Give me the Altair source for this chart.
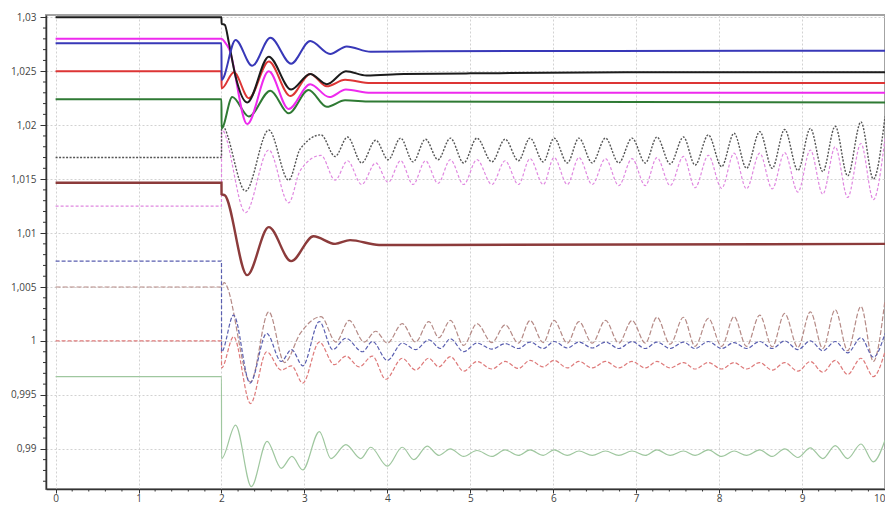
import altair as alt
import pandas as pd

# ---------------- solid series (time, value) ----------------
BLACK_T = [0, 2.0, 2.001, 2.04, 2.09, 2.17, 2.31, 2.57, 2.84, 3.07, 3.27, 3.5, 3.75, 4.2, 5.0, 7.0, 10.0]
BLACK_V = [1.0300, 1.0300, 1.0294, 1.0293, 1.0276, 1.0245, 1.0221, 1.02635, 1.0233, 1.02475, 1.0238, 1.0250, 1.0246, 1.02475, 1.0248, 1.0249, 1.0249]

BLUE_T = [0, 2.0, 2.001, 2.17, 2.37, 2.59, 2.84, 3.07, 3.31, 3.51, 3.8, 4.5, 10.0]
BLUE_V = [1.0276, 1.0276, 1.0242, 1.0279, 1.0255, 1.0281, 1.0257, 1.0278, 1.0266, 1.0273, 1.0268, 1.02685, 1.0269]

RED_T = [0, 2.0, 2.001, 2.15, 2.33, 2.57, 2.83, 3.07, 3.27, 3.49, 3.8, 10.0]
RED_V = [1.0250, 1.0250, 1.0234, 1.0249, 1.0225, 1.0259, 1.0227, 1.02475, 1.0236, 1.0242, 1.0239, 1.0239]

MAGENTA_T = [0, 2.0, 2.04, 2.09, 2.31, 2.57, 2.81, 3.07, 3.3, 3.5, 3.8, 10.0]
MAGENTA_V = [1.0280, 1.0280, 1.0277, 1.0271, 1.0201, 1.0250, 1.0215, 1.0238, 1.0226, 1.0233, 1.0230, 1.0230]

GREEN_T = [0, 2.0, 2.001, 2.13, 2.33, 2.59, 2.81, 3.05, 3.27, 3.49, 3.8, 10.0]
GREEN_V = [1.0224, 1.0224, 1.0197, 1.0226, 1.0208, 1.0232, 1.0211, 1.02326, 1.0217, 1.0223, 1.0222, 1.0221]

BROWN_T = [0, 2.0, 2.001, 2.04, 2.31, 2.57, 2.84, 3.11, 3.37, 3.55, 3.9, 4.5, 10.0]
BROWN_V = [1.01467, 1.01467, 1.0136, 1.0135, 1.0061, 1.01055, 1.0074, 1.0097, 1.0090, 1.00935, 1.0089, 1.0089, 1.0090]

# ---------------- dashed series: transient part ----------------
GRAY_T0 = [0, 2.0, 2.001, 2.29, 2.57, 2.81, 2.95, 3.2, 3.37, 3.52, 3.69, 3.86, 4.01, 4.16, 4.31, 4.46, 4.61]
GRAY_V0 = [1.0170, 1.0170, 1.0200, 1.0139, 1.01955, 1.0149, 1.0178, 1.0191, 1.0171, 1.0189, 1.0165, 1.0186, 1.0168, 1.0188, 1.0166, 1.0187, 1.0168]

PINK_T0 = [0, 2.0, 2.001, 2.29, 2.57, 2.81, 2.95, 3.2, 3.37, 3.52, 3.69, 3.86, 4.01, 4.16, 4.31, 4.46, 4.61]
PINK_V0 = [1.0125, 1.0125, 1.0196, 1.0119, 1.0177, 1.0128, 1.0158, 1.0172, 1.0149, 1.0167, 1.0145, 1.0165, 1.0147, 1.0167, 1.0145, 1.0167, 1.0146]

ROSY_T0 = [0, 2.0, 2.03, 2.35, 2.57, 2.76, 2.95, 3.2, 3.38, 3.54, 3.72, 3.86, 4.0, 4.18, 4.34, 4.5, 4.62]
ROSY_V0 = [1.0050, 1.0050, 1.0054, 0.9962, 1.0027, 0.9980, 1.0007, 1.00225, 0.9999, 1.0019, 0.9999, 1.0009, 0.9998, 1.0016, 0.9999, 1.0018, 1.0003]

BLUED_T0 = [0, 2.0, 2.001, 2.146, 2.345, 2.545, 2.72, 2.845, 2.98, 3.18, 3.34, 3.5, 3.70, 3.82, 4.0, 4.18, 4.34, 4.5, 4.64]
BLUED_V0 = [1.0074, 1.0074, 0.9990, 1.0024, 0.9961, 1.0007, 0.9981, 0.9992, 0.9977, 1.0018, 0.9992, 1.00025, 0.9990, 0.99995, 0.9982, 0.9998, 0.9992, 1.0001, 0.9993]

REDD_T0 = [0, 2.0, 2.001, 2.146, 2.35, 2.545, 2.72, 2.845, 2.98, 3.18, 3.36, 3.5, 3.66, 3.82, 3.98, 4.18, 4.34, 4.5, 4.62]
REDD_V0 = [1.0000, 1.0000, 0.9975, 1.0004, 0.9942, 0.9990, 0.9973, 0.9977, 0.9961, 0.9999, 0.9978, 0.9986, 0.9976, 0.9986, 0.99645, 0.9984, 0.9973, 0.9984, 0.9976]

LGREEN_T0 = [0, 2.0, 2.001, 2.17, 2.36, 2.55, 2.72, 2.85, 2.98, 3.18, 3.32, 3.5, 3.68, 3.8, 4.0, 4.18, 4.32, 4.48, 4.62]
LGREEN_V0 = [0.9967, 0.9967, 0.9891, 0.9922, 0.9865, 0.9907, 0.9882, 0.9893, 0.98805, 0.9916, 0.9891, 0.9904, 0.9891, 0.99015, 0.9884, 0.99015, 0.9890, 0.99025, 0.9894]

# ---------------- dashed series: sustained oscillation (peaks / troughs) ----------------
T_LATE = [4.76, 4.92, 5.08, 5.26, 5.42, 5.58, 5.72, 5.88, 6.01, 6.17, 6.31, 6.47, 6.63, 6.79, 6.95, 7.11, 7.25, 7.41,
          7.57, 7.71, 7.87, 8.03, 8.18, 8.33, 8.49, 8.64, 8.79, 8.95, 9.10, 9.25, 9.40, 9.55, 9.71, 9.86, 10.0]

GRAY_LATE = [1.0188, 1.0165, 1.0188, 1.0166, 1.0187, 1.0167, 1.0188, 1.0166, 1.0188, 1.0165, 1.0188, 1.0165, 1.0188,
             1.0165, 1.0188, 1.0165, 1.0189, 1.0164, 1.0189, 1.0163, 1.0191, 1.01615, 1.01925, 1.0160, 1.0194, 1.0160,
             1.0196, 1.0158, 1.0197, 1.0157, 1.0199, 1.0153, 1.0203, 1.0150, 1.0208]
PINK_LATE = [1.0168, 1.0145, 1.0168, 1.0145, 1.0167, 1.0145, 1.0169, 1.0145, 1.0170, 1.0145, 1.0170, 1.0145, 1.0169,
             1.0144, 1.0169, 1.0144, 1.0170, 1.0144, 1.0171, 1.0142, 1.0172, 1.01415, 1.0174, 1.0141, 1.0174, 1.0141,
             1.01745, 1.0138, 1.0177, 1.0136, 1.0180, 1.0133, 1.0183, 1.0131, 1.0188]
ROSY_LATE = [1.0019, 0.9996, 1.0016, 0.99985, 1.0015, 0.9998, 1.0019, 0.99985, 1.0019, 0.9998, 1.0018, 0.9998, 1.0019,
             0.9998, 1.0019, 0.9998, 1.0022, 0.9997, 1.0022, 0.9995, 1.0021, 0.9995, 1.00225, 0.9995, 1.0024, 0.99945,
             1.00255, 0.9994, 1.0027, 0.9993, 1.0029, 0.9991, 1.0032, 0.9981, 1.0038]
BLUED_LATE = [1.0002, 0.9990, 0.9998, 0.99925, 0.99975, 0.9993, 0.9999, 0.9993, 0.99995, 0.99935, 0.9999, 0.99935,
              0.9999, 0.9993, 0.99995, 0.9993, 0.9999, 0.9993, 0.9999, 0.9993, 0.99995, 0.9993, 0.99985, 0.9993,
              0.99995, 0.9993, 1.0000, 0.9992, 1.0000, 0.9991, 0.99995, 0.9989, 1.0003, 0.9985, 1.0007]
REDD_LATE = [0.99855, 0.9972, 0.9981, 0.9974, 0.9981, 0.99745, 0.9982, 0.9976, 0.9982, 0.9975, 0.9981, 0.9975, 0.9981,
             0.9975, 0.9981, 0.9975, 0.9981, 0.9975, 0.9980, 0.9974, 0.9980, 0.9974, 0.9980, 0.9974, 0.9980, 0.9973,
             0.9980, 0.9972, 0.9981, 0.9971, 0.9982, 0.9969, 0.9984, 0.9967, 0.9990]
LGREEN_LATE = [0.9900, 0.9893, 0.98985, 0.9893, 0.9899, 0.9894, 0.9899, 0.9894, 0.9899, 0.9894, 0.9898, 0.9894, 0.9898,
               0.9894, 0.9898, 0.9894, 0.9899, 0.9894, 0.9898, 0.9894, 0.9899, 0.9893, 0.9898, 0.9894, 0.9899, 0.9893,
               0.9900, 0.9892, 0.9901, 0.9891, 0.9903, 0.9891, 0.99045, 0.9888, 0.9908]

# ---------------- axis ticks ----------------
X_MAJOR = [0, 1, 2, 3, 4, 5, 6, 7, 8, 9, 10]
X_MINOR = [round(0.2 * i, 1) for i in range(50) if i % 5 != 0]
Y_MAJOR = [0.99, 0.995, 1.0, 1.005, 1.01, 1.015, 1.02, 1.025, 1.03]
Y_MINOR = [round(0.987 + 0.001 * i, 3) for i in range(44) if round((0.987 + 0.001 * i) * 1000) % 5 != 0]

# series: name, t, v, color, dash, width   (dashed first so solids are on top)
SERIES = [
    ("lgreen", LGREEN_T0 + T_LATE, LGREEN_V0 + LGREEN_LATE, "#9fc79f", [], 1.2),
    ("redd", REDD_T0 + T_LATE, REDD_V0 + REDD_LATE, "#de7a7a", [4, 2], 1.2),
    ("rosy", ROSY_T0 + T_LATE, ROSY_V0 + ROSY_LATE, "#b58a86", [5, 2], 1.2),
    ("blued", BLUED_T0 + T_LATE, BLUED_V0 + BLUED_LATE, "#5a5fb0", [4, 2], 1.2),
    ("pink", PINK_T0 + T_LATE, PINK_V0 + PINK_LATE, "#e088e0", [3, 2], 1.2),
    ("gray", GRAY_T0 + T_LATE, GRAY_V0 + GRAY_LATE, "#555555", [2, 1.5], 1.4),
    ("brown", BROWN_T, BROWN_V, "#8c3b3b", [], 2.4),
    ("green", GREEN_T, GREEN_V, "#2f7a34", [], 2.0),
    ("magenta", MAGENTA_T, MAGENTA_V, "#ee2aee", [], 2.0),
    ("red", RED_T, RED_V, "#dd3535", [], 2.0),
    ("black", BLACK_T, BLACK_V, "#1c1c1c", [], 2.0),
    ("blue", BLUE_T, BLUE_V, "#3838b8", [], 2.0),
]

W, H = 839, 474
x_scale = alt.Scale(domain=[-0.1157, 10.0], nice=False, zero=False)
y_scale = alt.Scale(domain=[0.98628, 1.03021], nice=False, zero=False)

X_AXIS = alt.Axis(
    values=X_MAJOR, format="d", title=None, tickSize=4, tickColor="#333", domainColor="#333",
    domainWidth=1.5, labelFontSize=10, labelColor="#444", labelFont="Open Sans", labelPadding=0,
    labelBaseline="top", grid=True, gridColor="#d2d2d2", gridDash=[2, 2], labelFlush=2)
Y_AXIS = alt.Axis(
    values=Y_MAJOR, labelExpr="replace(format(datum.value, '.3~f'), '.', ',')", title=None,
    tickSize=6, tickColor="#333", domainColor="#333", domainWidth=1.5, labelFontSize=10,
    labelColor="#444", labelFont="Open Sans", labelPadding=4, grid=True, gridColor="#d2d2d2",
    gridDash=[2, 2])

layers = []
for name, ts, vs, color, dash, width in SERIES:
    df = pd.DataFrame({"t": ts, "v": vs})
    mk = dict(color=color, strokeWidth=width, interpolate="monotone", clip=True)
    if dash:
        mk["strokeDash"] = dash
    layers.append(alt.Chart(df).mark_line(**mk).encode(
        x=alt.X("t:Q", scale=x_scale, axis=X_AXIS),
        y=alt.Y("v:Q", scale=y_scale, axis=Y_AXIS)))

# minor ticks
ymin_df = pd.DataFrame({"v": Y_MINOR})
layers.append(alt.Chart(ymin_df).mark_rule(color="#333", strokeWidth=1).encode(
    y=alt.Y("v:Q", scale=y_scale, axis=Y_AXIS), x=alt.value(-3), x2=alt.value(0)))
xmin_df = pd.DataFrame({"t": X_MINOR})
layers.append(alt.Chart(xmin_df).mark_rule(color="#333", strokeWidth=1).encode(
    x=alt.X("t:Q", scale=x_scale, axis=X_AXIS), y=alt.value(H), y2=alt.value(H + 2.5)))

chart = alt.layer(*layers).properties(
    width=W, height=H,
    autosize=alt.AutoSizeParams(type="none"),
    padding={"left": 38, "top": 7, "right": 0, "bottom": 17},
    background="white",
).configure_view(stroke="#a3a3a3", strokeWidth=2)

chart.save("out.html", embed_options={"renderer": "svg", "actions": False})
